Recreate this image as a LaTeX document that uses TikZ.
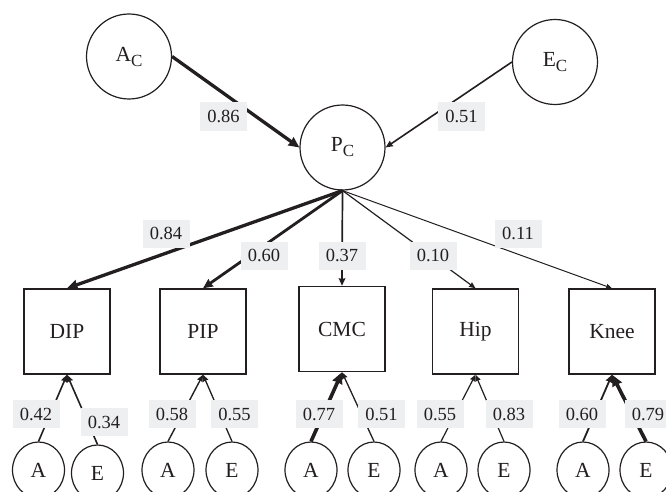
\documentclass[tikz,border=0pt]{standalone}
\usepackage{fontspec}
\setmainfont{Liberation Serif}
\usetikzlibrary{arrows.meta,shapes.geometric}
\definecolor{ink}{RGB}{35,31,32}
\definecolor{tag}{RGB}{238,239,241}
\newcommand{\sublab}[2]{#1\raisebox{-5pt}{\fontsize{17}{17}\selectfont #2}}
\tikzset{
  latent/.style={circle,draw=ink,line width=1.2pt,minimum size=85pt,inner sep=0pt,
    text=ink,font=\fontsize{21.5}{24}\selectfont},
  resid/.style={ellipse,draw=ink,line width=1.2pt,minimum width=52pt,minimum height=56pt,
    inner sep=0pt,text=ink,font=\fontsize{21.5}{24}\selectfont},
  obs/.style={rectangle,draw=ink,line width=1.4pt,minimum width=86pt,minimum height=85pt,
    inner sep=0pt,text=ink,font=\fontsize{21.5}{24}\selectfont},
  coef/.style={fill=tag,minimum width=47pt,minimum height=28pt,inner sep=0pt,
    text=ink,font=\fontsize{18.5}{20}\selectfont},
  link/.style={draw=ink,-{Stealth[length=4pt 2,width=3pt 2,inset=0.5pt]}},
}
\begin{document}
\begin{tikzpicture}[x=1pt,y=-1pt]
\useasboundingbox (0,0) rectangle (666,492);

% common factor and its sources
\node[latent] (AC) at (129,56.5) {\sublab{A}{C}};
\node[latent] (EC) at (555,62) {\sublab{E}{C}};
\node[latent] (PC) at (342.5,147.5) {\sublab{P}{C}};

% joint sites
\node[obs] (dip)  at (67,331.5)  {DIP};
\node[obs] (pip)  at (203,331.5) {PIP};
\node[obs] (cmc)  at (342,329)   {CMC};
\node[obs] (hip)  at (475.5,331.5) {Hip};
\node[obs] (knee) at (612,331.5) {Knee};

% site-specific genetic and environmental factors
\node[resid] (dipA)  at (38.5,470) {A};
\node[resid] (dipE)  at (97.5,473) {E};
\node[resid] (pipA)  at (168,470)  {A};
\node[resid] (pipE)  at (232,470)  {E};
\node[resid] (cmcA)  at (311,470)  {A};
\node[resid] (cmcE)  at (374,470)  {E};
\node[resid] (hipA)  at (441,470)  {A};
\node[resid] (hipE)  at (504,470)  {E};
\node[resid] (kneeA) at (583,470)  {A};
\node[resid] (kneeE) at (646,470)  {E};

% paths
\draw[link,line width=3.3pt] (AC.east) -- (PC.west);
\draw[link,line width=1.6pt] (EC.west) -- (PC.east);
\draw[link,line width=3.3pt] (PC.south) -- (dip.north);
\draw[link,line width=2.8pt] (PC.south) -- (pip.north);
\draw[link,line width=1.7pt] (PC.south) -- (cmc.north);
\draw[link,line width=1.2pt] (PC.south) -- (hip.north);
\draw[link,line width=1.0pt] (PC.south) -- (knee.north);

\draw[link,line width=1.6pt] (dipA.north) -- (dip.south);
\draw[link,line width=1.6pt] (dipE.north) -- (dip.south);
\draw[link,line width=1.4pt] (pipA.north) -- (pip.south);
\draw[link,line width=1.3pt] (pipE.north) -- (pip.south);
\draw[link,line width=3.6pt] (cmcA.north) -- (cmc.south);
\draw[link,line width=1.3pt] (cmcE.north) -- (cmc.south);
\draw[link,line width=1.2pt] (hipA.north) -- (hip.south);
\draw[link,line width=1.2pt] (hipE.north) -- (hip.south);
\draw[link,line width=1.8pt] (kneeA.north) -- (knee.south);
\draw[link,line width=3.6pt] (kneeE.north) -- (knee.south);

% path coefficients
\node[coef] (c1)  at (223.5,116.5) {0.86};
\node[coef] (c2)  at (461.5,116.5) {0.51};
\node[coef] (c3)  at (166,233.5)   {0.84};
\node[coef] (c4)  at (264,255.5)   {0.60};
\node[coef] (c5)  at (342,255.5)   {0.37};
\node[coef] (c6)  at (433,255.5)   {0.10};
\node[coef] (c7)  at (518,233.5)   {0.11};

\node[coef] (c8)  at (36,414)    {0.42};
\node[coef] (c9)  at (104,422)   {0.34};
\node[coef] (c10) at (172,414)   {0.58};
\node[coef] (c11) at (234.5,414) {0.55};
\node[coef] (c12) at (319,414)   {0.77};
\node[coef] (c13) at (381.5,414) {0.51};
\node[coef] (c14) at (440,414)   {0.55};
\node[coef] (c15) at (509,414)   {0.83};
\node[coef] (c16) at (582,414)   {0.60};
\node[coef] (c17) at (648,414)   {0.79};
\end{tikzpicture}
\end{document}
